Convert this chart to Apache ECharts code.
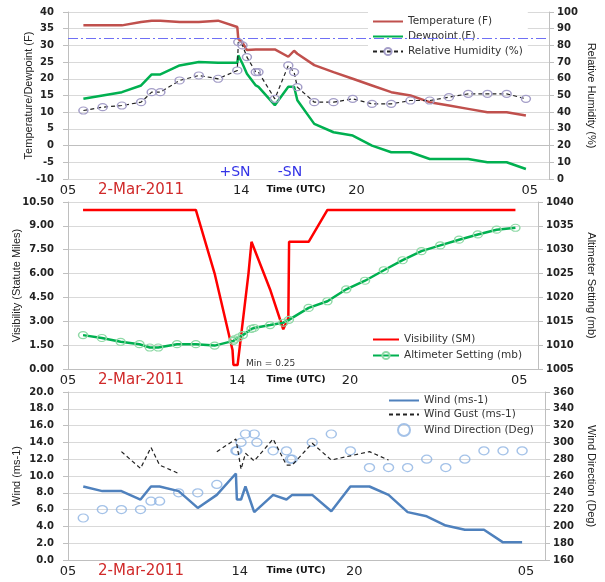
<!DOCTYPE html>
<html><head><meta charset="utf-8">
<script src="https://cdn.jsdelivr.net/npm/echarts@6/dist/echarts.min.js"></script>
<style>html,body{margin:0;padding:0;background:#fff}#c{width:605px;height:582px}</style>
</head><body><div id="c"></div>
<script>
// ---------- Panel 1: temperature / dewpoint / RH ----------
const tTimes = [5.8, 6.8, 7.8, 8.8, 9.35, 9.8, 10.8, 11.8, 12.8, 13.8, 13.85, 14.07, 14.3, 14.76, 14.9, 15.75, 16.45, 16.75, 16.92, 17.8, 18.8, 19.8, 20.8, 21.8, 22.8, 23.8, 24.8, 25.8, 26.8, 27.8, 28.8];
const temperature = [36, 36, 36, 37, 37.4, 37.4, 37, 37, 37.4, 35.5, 32, 30.8, 28.6, 28.8, 28.8, 28.8, 26.6, 28.4, 27.5, 24.1, 22, 20, 18, 16, 15, 13, 12, 11, 10, 10, 9];
const dewpoint = [14, 15, 16, 18, 21.3, 21.3, 24, 25, 24.8, 24.8, 27, 24.5, 21.5, 18, 17.6, 12.1, 17.6, 17.6, 13.6, 6.5, 4, 3, 0, -2, -2, -4, -4, -4, -5, -5, -7];
const humidity = [41, 43, 44, 46, 52, 52, 59, 62, 60, 65, 82, 80, 73, 64, 64, 48, 68, 64, 55, 46, 46, 48, 45, 45, 47, 47, 49, 51, 51, 51, 48];
const freezingF = 32;

// ---------- Panel 2: visibility / altimeter ----------
const visTimes = [5.8, 6.8, 7.8, 8.8, 9.8, 10.8, 11.8, 12.8, 13.75, 13.8, 14.02, 14.6, 14.76, 15.75, 16.45, 16.72, 16.76, 17.8, 18.8, 19.8, 20.8, 21.8, 22.8, 23.8, 24.8, 25.8, 26.8, 27.8, 28.8];
const visibility = [10, 10, 10, 10, 10, 10, 10, 6, 1.2, 0.25, 0.25, 6, 8, 5, 2.5, 3.2, 8, 8, 10, 10, 10, 10, 10, 10, 10, 10, 10, 10, 10];
const altTimes = [5.8, 6.8, 7.8, 8.8, 9.35, 9.8, 10.8, 11.8, 12.8, 13.8, 13.85, 14.07, 14.3, 14.76, 14.9, 15.75, 16.45, 16.75, 17.8, 18.8, 19.8, 20.8, 21.8, 22.8, 23.8, 24.8, 25.8, 26.8, 27.8, 28.8];
const altimeter = [1012.1, 1011.5, 1010.7, 1010.2, 1009.5, 1009.5, 1010.2, 1010.2, 1009.9, 1010.9, 1011.2, 1011.6, 1012.1, 1013.4, 1013.6, 1014.2, 1014.7, 1015.3, 1017.8, 1019.2, 1021.7, 1023.5, 1025.7, 1027.8, 1029.7, 1030.9, 1032.1, 1033.2, 1034.2, 1034.6];
const visMinText = 'Min = 0.25';

// ---------- Panel 3: wind ----------
const windTimes = [5.8, 6.8, 7.8, 8.8, 9.35, 9.8, 10.8, 11.8, 12.8, 13.8, 13.85, 14.07, 14.3, 14.76, 15.75, 16.45, 16.75, 17.8, 18.8, 19.8, 20.8, 21.8, 22.8, 23.8, 24.8, 25.8, 26.8, 27.8, 28.8];
const wind = [8.75, 8.2, 8.2, 7.2, 8.75, 8.75, 8.2, 6.2, 7.75, 10.3, 7.2, 7.2, 8.75, 5.7, 7.75, 7.2, 7.75, 7.75, 5.8, 8.75, 8.75, 7.75, 5.7, 5.2, 4.1, 3.6, 3.6, 2.1, 2.1];
const gustTimes = [7.8, 8.8, 9.35, 9.8, 10.8, 11.8, 12.8, 13.8, 14.07, 14.3, 14.76, 15.75, 16.45, 16.75, 17.8, 18.8, 19.8, 20.8, 21.8];
const gust = [12.9, 10.9, 13.4, 11.3, 10.3, null, 12.9, 14.4, 10.8, 12.7, 11.8, 14.4, 11.3, 11.3, 13.9, 11.9, 12.4, 12.9, 11.9];
const dirTimes = [5.8, 6.8, 7.8, 8.8, 9.35, 9.8, 10.8, 11.8, 12.8, 13.8, 13.85, 14.07, 14.3, 14.76, 14.9, 15.75, 16.45, 16.66, 16.75, 17.8, 18.8, 19.8, 20.8, 21.8, 22.8, 23.8, 24.8, 25.8, 26.8, 27.8, 28.8];
const direction = [210, 220, 220, 220, 230, 230, 240, 240, 250, 290, 290, 300, 310, 310, 300, 290, 290, 280, 280, 300, 310, 290, 270, 270, 270, 280, 270, 280, 290, 290, 290];

// ---------- Axis text ----------
const xTickLabels = {5: '05', 14: '14', 20: '20', 29: '05'};
const dateText = '2-Mar-2011';
const timeText = 'Time (UTC)';
const wxLabels = ['+SN', '-SN'];

const pair = (xs, ys) => xs.map((x, i) => [x, ys[i]]);

const FONT = 'DejaVu Sans';
const NAMEFONT = "'Liberation Sans Narrow', 'Liberation Sans', sans-serif";
const gridTops = [12, 202, 392];
const gridHeights = [167, 167, 168];

function xAxis(i) {
  return {
    type: 'value', gridIndex: i, min: 5, max: 30, interval: 1,
    axisLine: {show: true, lineStyle: {color: '#bfbfbf'}},
    axisTick: {show: false}, splitLine: {show: false},
    axisLabel: {fontFamily: FONT, fontSize: 13, color: '#222', margin: 5,
      formatter: v => xTickLabels[v] || ''}
  };
}
function yAxis(i, pos, min, max, interval, name, gap, decimals, split) {
  return {
    type: 'value', gridIndex: i, position: pos, min, max, interval,
    name, nameLocation: 'middle', nameGap: gap, nameRotate: pos === 'left' ? 90 : -90,
    nameMoveOverlap: false,
    nameTextStyle: {fontFamily: NAMEFONT, fontSize: 11, color: '#222'},
    axisLine: {show: true, lineStyle: {color: '#bfbfbf'}},
    axisTick: {show: true, length: 5, lineStyle: {color: '#bfbfbf'}},
    splitLine: {show: split, lineStyle: {color: '#d9d9d9'}},
    axisLabel: {fontFamily: FONT, fontWeight: 'bold', fontSize: 10, color: '#222',
      margin: pos === 'left' ? 14 : 8, formatter: v => v.toFixed(decimals)}
  };
}

// legend entries for plain lines hide the symbol, keeping only the stroke
const lineOnly = name => ({name, itemStyle: {opacity: 0}});

const legendBase = {orient: 'vertical', itemWidth: 30, itemHeight: 9, itemGap: 4,
  textStyle: {fontFamily: FONT, fontSize: 10.5, color: '#333'}, padding: [4, 5, 4, 4]};

const option = {
  animation: false,
  grid: gridTops.map((t, i) => ({left: 68, right: 56, top: t, height: gridHeights[i]})),
  xAxis: [xAxis(0), xAxis(1), xAxis(2)],
  yAxis: [
    yAxis(0, 'left', -10, 40, 5, 'Temperature/Dewpoint (F)', 34, 0, true),
    yAxis(0, 'right', 0, 100, 10, 'Relative Humidity (%)', 37, 0, false),
    yAxis(1, 'left', 0, 10.5, 1.5, 'Visibility (Statute Miles)', 46, 2, true),
    yAxis(1, 'right', 1005, 1040, 5, 'Altimeter Setting (mb)', 48, 0, false),
    yAxis(2, 'left', 0, 20, 2, 'Wind (ms-1)', 46, 1, true),
    yAxis(2, 'right', 160, 360, 20, 'Wind Direction (Deg)', 41, 0, false)
  ],
  legend: [
    Object.assign({}, legendBase, {left: 368, top: 12, backgroundColor: '#fff',
      data: [lineOnly('Temperature (F)'), lineOnly('Dewpoint (F)'), 'Relative Humidity (%)']}),
    Object.assign({}, legendBase, {left: 368, top: 330, itemWidth: 26, itemGap: 5,
      data: [lineOnly('Visibility (SM)'), 'Altimeter Setting (mb)']}),
    Object.assign({}, legendBase, {left: 384, top: 391, itemGap: 3, itemHeight: 12,
      data: [lineOnly('Wind (ms-1)'), lineOnly('Wind Gust (ms-1)'), 'Wind Direction (Deg)']})
  ],
  series: [
    {name: 'Temperature (F)', type: 'line', xAxisIndex: 0, yAxisIndex: 0, symbol: 'none',
     data: pair(tTimes, temperature), color: '#c0504d', lineStyle: {width: 2.5},
     markLine: {silent: true, symbol: 'none', label: {show: false},
       lineStyle: {color: '#6f6ff5', type: [10, 3, 2, 3], width: 1.2}, data: [{yAxis: freezingF}]}},
    {name: 'Dewpoint (F)', type: 'line', xAxisIndex: 0, yAxisIndex: 0, symbol: 'none',
     data: pair(tTimes, dewpoint), color: '#00b050', lineStyle: {width: 2.5}},
    {name: 'Relative Humidity (%)', type: 'line', xAxisIndex: 0, yAxisIndex: 1,
     symbol: 'circle', symbolSize: [9, 7], z: 3,
     data: pair(tTimes, humidity),
     lineStyle: {color: '#222', width: 1.2, type: [4, 3]},
     itemStyle: {color: 'rgba(255,255,255,0)', borderColor: '#a49ec8', borderWidth: 1.3}},

    {name: 'Visibility (SM)', type: 'line', xAxisIndex: 1, yAxisIndex: 2, symbol: 'none',
     data: pair(visTimes, visibility), color: '#ff0000', lineStyle: {width: 2.5}},
    {name: 'Altimeter Setting (mb)', type: 'line', xAxisIndex: 1, yAxisIndex: 3,
     symbol: 'circle', symbolSize: [9, 7],
     data: pair(altTimes, altimeter), lineStyle: {color: '#00b050', width: 2.5},
     itemStyle: {color: 'rgba(255,255,255,0)', borderColor: '#8fd9a6', borderWidth: 1.3}},

    {name: 'Wind (ms-1)', type: 'line', xAxisIndex: 2, yAxisIndex: 4, symbol: 'none',
     data: pair(windTimes, wind), color: '#4f81bd', lineStyle: {width: 2.5}},
    {name: 'Wind Gust (ms-1)', type: 'line', xAxisIndex: 2, yAxisIndex: 4, symbol: 'none',
     connectNulls: false, data: pair(gustTimes, gust), color: '#222',
     lineStyle: {width: 1.2, type: [4, 3]}},
    {name: 'Wind Direction (Deg)', type: 'scatter', xAxisIndex: 2, yAxisIndex: 5,
     symbol: 'circle', symbolSize: [10, 8], data: pair(dirTimes, direction),
     itemStyle: {color: 'rgba(255,255,255,0)', borderColor: '#8db3e2', borderWidth: 1.3}}
  ],
  graphic: [].concat(
    gridTops.map((t, i) => ({type: 'text',
      style: {text: dateText, x: 141, y: t + gridHeights[i] + 11, align: 'center', verticalAlign: 'middle',
        fill: '#d02a2a', font: '15px "DejaVu Sans"'}})),
    gridTops.map((t, i) => ({type: 'text',
      style: {text: timeText, x: 296, y: t + gridHeights[i] + 11, align: 'center', verticalAlign: 'middle',
        fill: '#111', font: 'bold 9.5px "DejaVu Sans"'}})),
    [{type: 'text', style: {text: wxLabels[0], x: 235, y: 172, align: 'center', verticalAlign: 'middle',
        fill: '#3333e6', font: '14px "DejaVu Sans"'}},
     {type: 'text', style: {text: wxLabels[1], x: 290, y: 172, align: 'center', verticalAlign: 'middle',
        fill: '#3333e6', font: '14px "DejaVu Sans"'}},
     {type: 'text', style: {text: visMinText, x: 246, y: 364, align: 'left', verticalAlign: 'middle',
        fill: '#333', font: '9px "DejaVu Sans"'}}]
  )
};

const chart = echarts.init(document.getElementById('c'), null, {renderer: 'canvas'});
chart.setOption(option);
</script>
</body></html>
